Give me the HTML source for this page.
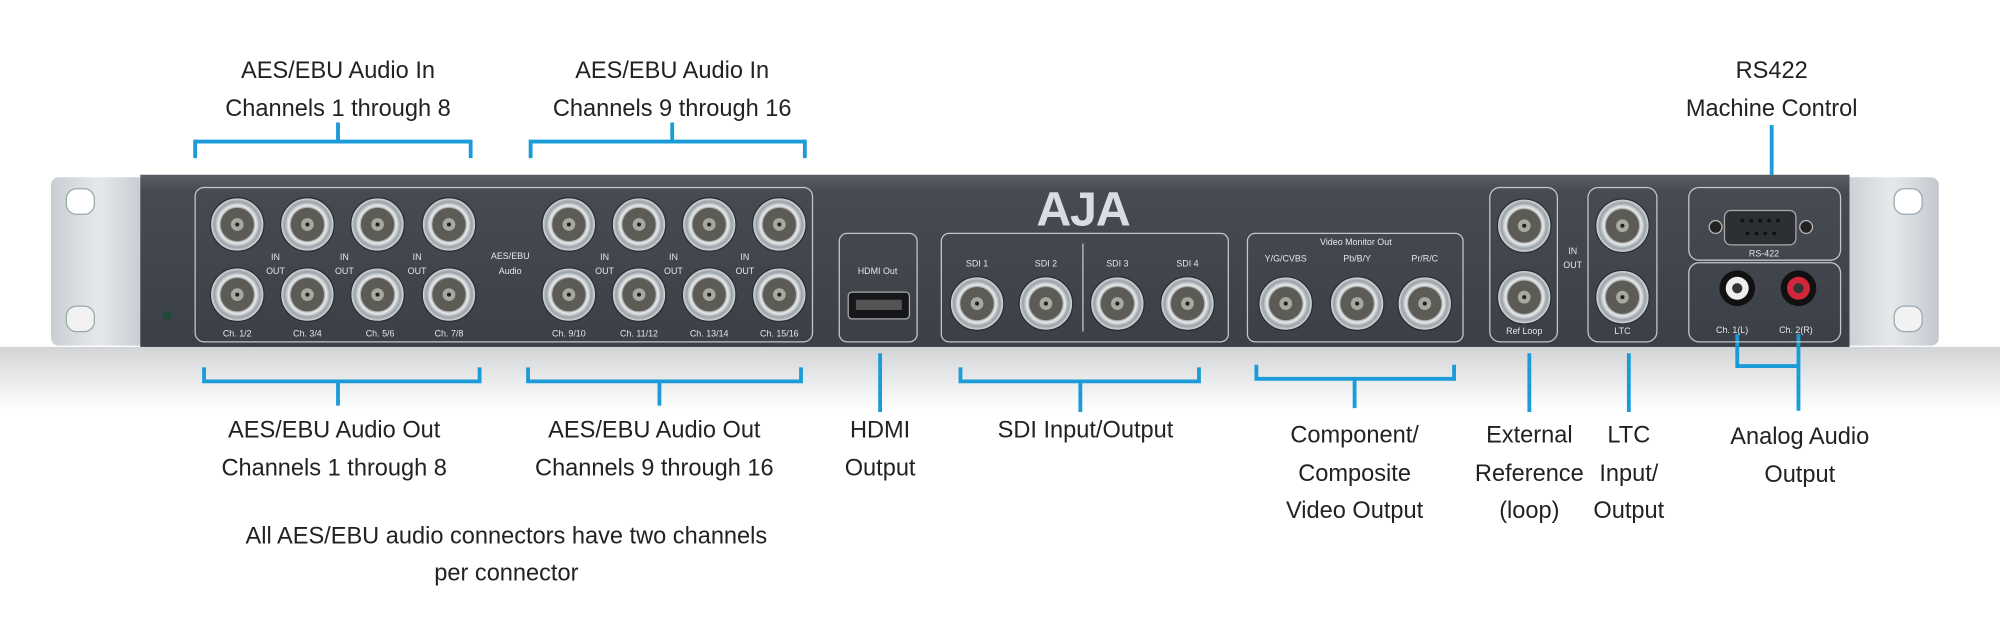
<!DOCTYPE html>
<html><head><meta charset="utf-8"><style>
html,body{margin:0;padding:0;background:#fff;}
svg{display:block;}
text{font-family:"Liberation Sans",sans-serif;}
</style></head><body>
<svg width="2000" height="632" viewBox="0 0 1568 495.5" preserveAspectRatio="none" xmlns="http://www.w3.org/2000/svg">
<defs>
<linearGradient id="ch" x1="0" y1="0" x2="0" y2="1"><stop offset="0" stop-color="#5a5f67"/><stop offset="0.1" stop-color="#464a52"/><stop offset="1" stop-color="#3b3f46"/></linearGradient>
<linearGradient id="ear" x1="0" y1="0" x2="1" y2="0"><stop offset="0" stop-color="#c9ced4"/><stop offset="0.5" stop-color="#e6e9ec"/><stop offset="1" stop-color="#c4c9cf"/></linearGradient>
<linearGradient id="fl" x1="0" y1="0" x2="0" y2="1"><stop offset="0" stop-color="#d2d4d6"/><stop offset="1" stop-color="#ffffff"/></linearGradient>
<radialGradient id="bnc"><stop offset="0.55" stop-color="#5f5e58"/><stop offset="0.7" stop-color="#e8ecee"/><stop offset="0.85" stop-color="#9aa0a6"/><stop offset="1" stop-color="#dfe3e6"/></radialGradient>
<g id="b"><circle r="21" fill="url(#bnc)" stroke="#2a2d31" stroke-width="1"/><circle r="13" fill="#5c5b55"/><circle r="5" fill="#a8a8a0"/><circle r="1.6" fill="#222"/></g>
</defs>
<rect x="0" y="272" width="1568" height="50" fill="url(#fl)"/>
<g stroke="#1b9bd7" stroke-width="3" fill="none">
<path d="M153 124V111H369V124M265 111V96"/>
<path d="M416 124V111H631V124M527 111V96"/>
<path d="M1389 98V133"/>
<path d="M160 288V299H376V288M265 299V318"/>
<path d="M414 288V299H628V288M517 299V318"/>
<path d="M690 277V323"/>
<path d="M753 288V299H940V288M847 299V323"/>
<path d="M985 286V297H1140V286M1062 297V320"/>
<path d="M1199 277V323"/>
<path d="M1277 277V323"/>
<path d="M1362 262V287H1410M1410 262V322"/>
</g>
<rect x="40" y="139" width="75" height="132" rx="6" fill="url(#ear)"/>
<rect x="1445" y="139" width="75" height="132" rx="6" fill="url(#ear)"/>
<rect x="52" y="148" width="22" height="20" rx="8" fill="#fff" stroke="#9aa" />
<rect x="52" y="240" width="22" height="20" rx="8" fill="#f2f2f2" stroke="#9aa"/>
<rect x="1485" y="148" width="22" height="20" rx="8" fill="#fff" stroke="#9aa"/>
<rect x="1485" y="240" width="22" height="20" rx="8" fill="#f2f2f2" stroke="#9aa"/>
<rect x="110" y="137" width="1340" height="135" fill="url(#ch)"/>
<circle cx="131" cy="247" r="3.5" fill="#1e4a3c"/>
<g stroke="#1b9bd7" stroke-width="3" fill="none"><path d="M1362 262V272M1410 262V272M1389 133V137"/></g>
<g fill="none" stroke="#c3c7cc" stroke-width="1">
<rect x="153" y="147" width="484" height="121" rx="7"/>
<rect x="658" y="183" width="61" height="85" rx="6"/>
<rect x="738" y="183" width="225" height="85" rx="6"/>
<line x1="849" y1="191" x2="849" y2="260"/>
<rect x="978" y="183" width="169" height="85" rx="6"/>
<rect x="1168" y="147" width="53" height="121" rx="8"/>
<rect x="1245" y="147" width="54" height="121" rx="8"/>
<rect x="1324" y="147" width="119" height="57" rx="8"/>
<rect x="1324" y="206" width="119" height="62" rx="8"/>
</g>
<text x="849" y="177" font-size="38" font-weight="bold" fill="#d9dde1" text-anchor="middle" letter-spacing="-1">AJA</text>
<g>
<use href="#b" x="186" y="176"/><use href="#b" x="241" y="176"/><use href="#b" x="296" y="176"/><use href="#b" x="352" y="176"/>
<use href="#b" x="186" y="231"/><use href="#b" x="241" y="231"/><use href="#b" x="296" y="231"/><use href="#b" x="352" y="231"/>
<use href="#b" x="446" y="176"/><use href="#b" x="501" y="176"/><use href="#b" x="556" y="176"/><use href="#b" x="611" y="176"/>
<use href="#b" x="446" y="231"/><use href="#b" x="501" y="231"/><use href="#b" x="556" y="231"/><use href="#b" x="611" y="231"/>
<use href="#b" x="766" y="238"/><use href="#b" x="820" y="238"/><use href="#b" x="876" y="238"/><use href="#b" x="931" y="238"/>
<use href="#b" x="1008" y="238"/><use href="#b" x="1064" y="238"/><use href="#b" x="1117" y="238"/>
<use href="#b" x="1195" y="177"/><use href="#b" x="1195" y="233"/>
<use href="#b" x="1272" y="177"/><use href="#b" x="1272" y="233"/>
</g>
<rect x="665" y="229" width="48" height="21" rx="3" fill="#15171a" stroke="#aaa"/>
<rect x="671" y="235" width="36" height="8" fill="#555"/>
<rect x="1352" y="165" width="56" height="27" rx="5" fill="#2c2f33" stroke="#aaa"/>
<circle cx="1345" cy="178" r="5" fill="#222" stroke="#bbb"/><circle cx="1416" cy="178" r="5" fill="#222" stroke="#bbb"/>
<g fill="#111"><circle cx="1366" cy="173" r="1.5"/><circle cx="1373" cy="173" r="1.5"/><circle cx="1380" cy="173" r="1.5"/><circle cx="1387" cy="173" r="1.5"/><circle cx="1394" cy="173" r="1.5"/><circle cx="1370" cy="183" r="1.5"/><circle cx="1377" cy="183" r="1.5"/><circle cx="1384" cy="183" r="1.5"/><circle cx="1391" cy="183" r="1.5"/></g>
<circle cx="1362" cy="226" r="14" fill="#111"/><circle cx="1362" cy="226" r="9" fill="#eee"/><circle cx="1362" cy="226" r="4" fill="#333"/>
<circle cx="1410" cy="226" r="14" fill="#111"/><circle cx="1410" cy="226" r="9" fill="#d0283a"/><circle cx="1410" cy="226" r="4" fill="#333"/>
<g fill="#e4e7ea" font-size="7" text-anchor="middle">
<text x="216" y="204">IN</text><text x="216" y="215">OUT</text>
<text x="270" y="204">IN</text><text x="270" y="215">OUT</text>
<text x="327" y="204">IN</text><text x="327" y="215">OUT</text>
<text x="474" y="204">IN</text><text x="474" y="215">OUT</text>
<text x="528" y="204">IN</text><text x="528" y="215">OUT</text>
<text x="584" y="204">IN</text><text x="584" y="215">OUT</text>
<text x="400" y="203">AES/EBU</text><text x="400" y="215">Audio</text>
<text x="186" y="264">Ch. 1/2</text><text x="241" y="264">Ch. 3/4</text><text x="298" y="264">Ch. 5/6</text><text x="352" y="264">Ch. 7/8</text>
<text x="446" y="264">Ch. 9/10</text><text x="501" y="264">Ch. 11/12</text><text x="556" y="264">Ch. 13/14</text><text x="611" y="264">Ch. 15/16</text>
<text x="688" y="215">HDMI Out</text>
<text x="766" y="209">SDI 1</text><text x="820" y="209">SDI 2</text><text x="876" y="209">SDI 3</text><text x="931" y="209">SDI 4</text>
<text x="1063" y="192">Video Monitor Out</text>
<text x="1008" y="205">Y/G/CVBS</text><text x="1064" y="205">Pb/B/Y</text><text x="1117" y="205">Pr/R/C</text>
<text x="1233" y="199">IN</text><text x="1233" y="210">OUT</text>
<text x="1195" y="262">Ref Loop</text><text x="1272" y="262">LTC</text>
<text x="1383" y="201">RS-422</text>
<text x="1358" y="261">Ch. 1(L)</text><text x="1408" y="261">Ch. 2(R)</text>
</g>
<g fill="#222" font-size="18.5" text-anchor="middle">
<text x="265" y="61">AES/EBU Audio In</text><text x="265" y="91">Channels 1 through 8</text>
<text x="527" y="61">AES/EBU Audio In</text><text x="527" y="91">Channels 9 through 16</text>
<text x="1389" y="61">RS422</text><text x="1389" y="91">Machine Control</text>
<text x="262" y="343">AES/EBU Audio Out</text><text x="262" y="373">Channels 1 through 8</text>
<text x="513" y="343">AES/EBU Audio Out</text><text x="513" y="373">Channels 9 through 16</text>
<text x="690" y="343">HDMI</text><text x="690" y="373">Output</text>
<text x="851" y="343">SDI Input/Output</text>
<text x="1062" y="347">Component/</text><text x="1062" y="377">Composite</text><text x="1062" y="406">Video Output</text>
<text x="1199" y="347">External</text><text x="1199" y="377">Reference</text><text x="1199" y="406">(loop)</text>
<text x="1277" y="347">LTC</text><text x="1277" y="377">Input/</text><text x="1277" y="406">Output</text>
<text x="1411" y="348">Analog Audio</text><text x="1411" y="378">Output</text>
<text x="397" y="426">All AES/EBU audio connectors have two channels</text>
<text x="397" y="455">per connector</text>
</g>
</svg>
</body></html>
